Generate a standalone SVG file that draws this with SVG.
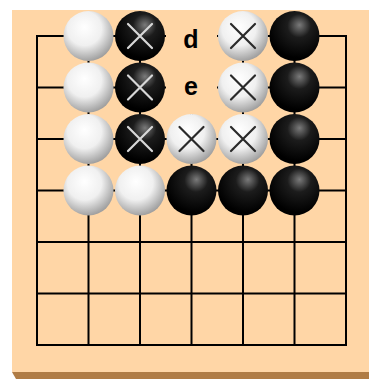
<svg xmlns="http://www.w3.org/2000/svg" width="369" height="379" viewBox="0 0 369 379">
<style>
.grid{stroke:#000;stroke-width:2;fill:none}
.bs{fill:url(#gb)}
.ws{fill:url(#gw)}
.xw{stroke:#d8d8d8;stroke-width:2.2;stroke-linecap:round}
.xb{stroke:#2a2a2a;stroke-width:2.2;stroke-linecap:round}
.lbl{font-family:"Liberation Sans",Arial,sans-serif;font-weight:bold;font-size:25px;fill:#000;text-anchor:middle}
</style>
<defs>
<radialGradient id="gb" cx="0.58" cy="0.32" r="0.62" fx="0.6" fy="0.28">
<stop offset="0" stop-color="#7a7a7a"/>
<stop offset="0.38" stop-color="#1c1c1c"/>
<stop offset="1" stop-color="#000"/>
</radialGradient>
<radialGradient id="gw" cx="0.42" cy="0.38" r="0.68" fx="0.42" fy="0.32">
<stop offset="0" stop-color="#fff"/>
<stop offset="0.5" stop-color="#f0f0f0"/>
<stop offset="1" stop-color="#939393"/>
</radialGradient>
</defs>
<g id="board">
<rect x="12" y="10" width="357" height="362" fill="#FFD6A6"/>
<polygon points="12,372 369,372 369,379 16,379" fill="#B07C45"/>
</g>
<g id="grid" class="grid">
<rect x="37" y="36" width="309" height="309"/>
<path d="M37 87.5H346M37 139H346M37 190.5H346M37 242H346M37 293.5H346M88.5 36V345M140 36V345M191.5 36V345M243 36V345M294.5 36V345"/>
</g>
<rect x="166" y="12" width="51" height="102" fill="#FFD6A6"/>
<g id="stones">
<g id="w-1-0"><circle class="ws" cx="88.5" cy="36" r="25"/></g>
<g id="w-1-1"><circle class="ws" cx="88.5" cy="87.5" r="25"/></g>
<g id="w-1-2"><circle class="ws" cx="88.5" cy="139" r="25"/></g>
<g id="w-1-3"><circle class="ws" cx="88.5" cy="190.5" r="25"/></g>
<g id="w-2-3"><circle class="ws" cx="140" cy="190.5" r="25"/></g>
<g id="b-2-0"><circle class="bs" cx="140" cy="36" r="25"/><path class="xw" d="M128 24L152 48M152 24L128 48"/></g>
<g id="b-2-1"><circle class="bs" cx="140" cy="87.5" r="25"/><path class="xw" d="M128 75.5L152 99.5M152 75.5L128 99.5"/></g>
<g id="b-2-2"><circle class="bs" cx="140" cy="139" r="25"/><path class="xw" d="M128 127L152 151M152 127L128 151"/></g>
<g id="w-3-2"><circle class="ws" cx="191.5" cy="139" r="25"/><path class="xb" d="M179.5 127L203.5 151M203.5 127L179.5 151"/></g>
<g id="w-4-0"><circle class="ws" cx="243" cy="36" r="25"/><path class="xb" d="M231 24L255 48M255 24L231 48"/></g>
<g id="w-4-1"><circle class="ws" cx="243" cy="87.5" r="25"/><path class="xb" d="M231 75.5L255 99.5M255 75.5L231 99.5"/></g>
<g id="w-4-2"><circle class="ws" cx="243" cy="139" r="25"/><path class="xb" d="M231 127L255 151M255 127L231 151"/></g>
<g id="b-3-3"><circle class="bs" cx="191.5" cy="190.5" r="25"/></g>
<g id="b-4-3"><circle class="bs" cx="243" cy="190.5" r="25"/></g>
<g id="b-5-0"><circle class="bs" cx="294.5" cy="36" r="25"/></g>
<g id="b-5-1"><circle class="bs" cx="294.5" cy="87.5" r="25"/></g>
<g id="b-5-2"><circle class="bs" cx="294.5" cy="139" r="25"/></g>
<g id="b-5-3"><circle class="bs" cx="294.5" cy="190.5" r="25"/></g>
</g>
<g id="labels">
<text class="lbl" x="191" y="48">d</text>
<text class="lbl" x="191" y="95">e</text>
</g>
</svg>
